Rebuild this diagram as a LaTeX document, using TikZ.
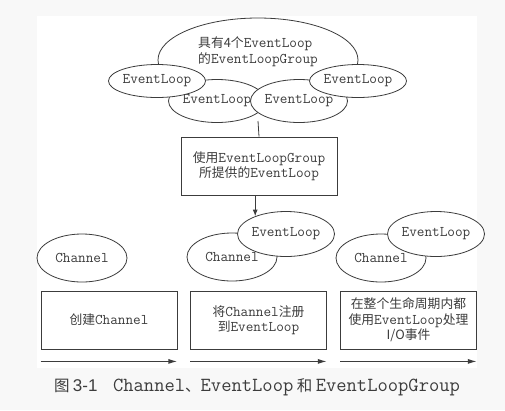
\documentclass[tikz,border=0pt]{standalone}
\usepackage{fontspec}
\setmainfont{Noto Sans CJK SC}
\newfontfamily\capsans{Liberation Sans}
\usetikzlibrary{arrows.meta,shapes.geometric}
\definecolor{ink}{HTML}{3C3C3C}
\definecolor{pagegray}{HTML}{F8F8F8}
\newcommand{\code}[1]{{\fontsize{14.8}{15.5}\selectfont\ttfamily #1}}
\newcommand{\el}{\code{EventLoop}}
\newcommand{\capmono}[1]{{\fontsize{20}{20}\selectfont\ttfamily #1}}

\begin{document}
\begin{tikzpicture}[
  x=1pt,
  y=-1pt,
  >=Latex,
  every node/.style={font=\fontsize{12.8}{15.5}\selectfont,text=ink,inner sep=1pt,align=center},
  group/.style={draw=ink,line width=0.8pt,fill=white,ellipse,inner sep=0pt,minimum width=200pt,minimum height=84pt},
  toploop/.style={draw=ink,line width=0.8pt,fill=white,ellipse,inner sep=0pt,minimum width=81pt,minimum height=33pt},
  midloop/.style={draw=ink,line width=0.8pt,fill=white,ellipse,inner sep=0pt,minimum width=81pt,minimum height=43pt},
  loop/.style={draw=ink,line width=0.8pt,fill=white,ellipse,inner sep=0pt,minimum width=82pt,minimum height=45pt},
  chan/.style={draw=ink,line width=0.8pt,fill=white,ellipse,inner sep=0pt,minimum width=90pt,minimum height=48pt},
  stage/.style={draw=ink,line width=0.8pt,fill=white,rectangle,minimum width=136pt,minimum height=58pt},
  edge/.style={->,ink,line width=0.8pt},
  timeline/.style={-{Latex[length=9pt,width=5pt]},ink,line width=1.2pt}
]
\useasboundingbox (0,0) rectangle (505,410);
\fill[pagegray] (0,0) rectangle (505,410);
\fill[white] (37,16) rectangle (477,368);

% EventLoopGroup
\node[group] (grp) at (258,60) {};
\node[align=left] (grptext) at (258,52) {具有4个\el\\的\code{EventLoopGroup}};
\node[midloop] (loop2) at (217,101) {\el};
\node[midloop] (loop3) at (299,101) {\el};
\node[toploop] (loop1) at (157,81) {\el};
\node[toploop] (loop4) at (358,81) {\el};

% Assignment
\coordinate (grpout) at (258,121);
\node[stage,minimum width=156pt] (assign) at (259,166) {使用\code{EventLoopGroup}\\所提供的\el};
\draw[ink,line width=0.8pt] (grpout) -- (assign.north);

% Channels
\node[chan] (ch1) at (82,258) {\code{Channel}};
\node[chan] (ch2) at (232,257) {\code{Channel}};
\node[loop] (el2) at (286,234) {\el};
\node[chan] (ch3) at (381,258) {\code{Channel}};
\node[loop] (el3) at (436,234) {\el};
\draw[edge] (el2.150 |- assign.south) -- (el2.150);

% Stages
\node[stage] (create) at (109,320) {创建\code{Channel}};
\node[stage] (register) at (258.5,320) {将\code{Channel}注册\\到\el};
\node[stage] (handle) at (408.5,320) {在整个生命周期内都\\使用\el 处理\\I/O事件};

% Timeline
\draw[timeline] ([yshift=-12pt]create.south west) -- ([yshift=-12pt]create.south east);
\draw[timeline] ([yshift=-12pt]register.south west) -- ([yshift=-12pt]register.south east);
\draw[timeline] ([yshift=-12pt]handle.south west) -- ([yshift=-12pt]handle.south east);

% Caption
\node[font=\fontsize{15.5}{18}\selectfont] (caption) at (257,387)
  {图 {\capsans\fontsize{17}{18}\selectfont 3-1}\quad\capmono{Channel}、\capmono{EventLoop} 和 \capmono{EventLoopGroup}};
\end{tikzpicture}
\end{document}
